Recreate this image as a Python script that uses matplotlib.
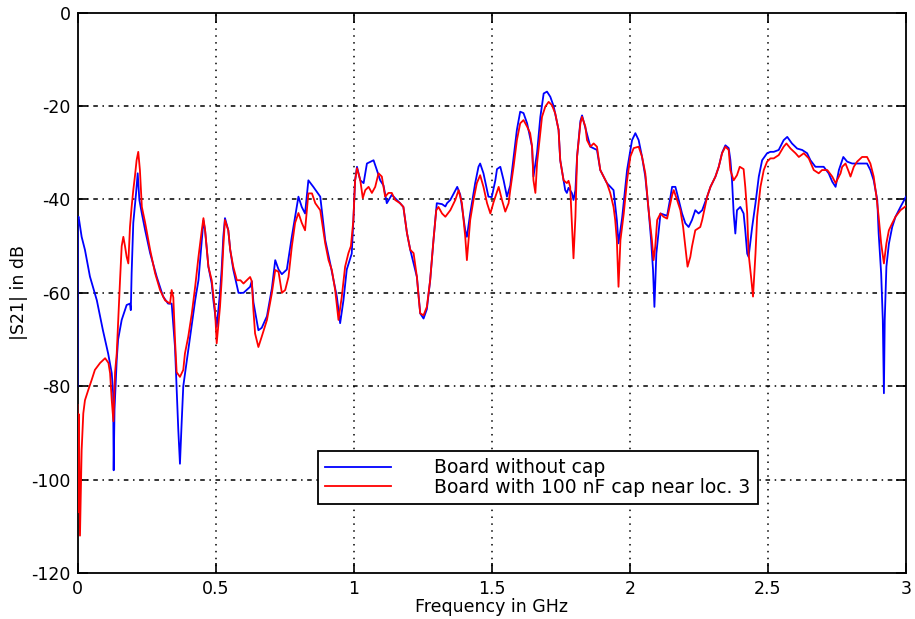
import matplotlib
matplotlib.use("Agg")
import matplotlib.pyplot as plt
import numpy as np

plt.rcParams['font.family'] = ['DejaVu Sans']

# Board without cap (blue): frequency in GHz, |S21| in dB
blue_f = [0.000, 0.001, 0.004, 0.015, 0.027, 0.045, 0.070, 0.092, 0.111, 0.124, 0.129, 0.131, 0.134,
          0.142, 0.147, 0.160, 0.178, 0.190, 0.193, 0.196, 0.202, 0.212, 0.218, 0.224, 0.233, 0.245,
          0.263, 0.287, 0.310, 0.328, 0.341, 0.353, 0.365, 0.371, 0.377, 0.383, 0.396, 0.408, 0.426,
          0.438, 0.450, 0.456, 0.462, 0.474, 0.486, 0.492, 0.504, 0.516, 0.522, 0.528, 0.534, 0.546,
          0.553, 0.564, 0.583, 0.601, 0.625, 0.631, 0.637, 0.655, 0.667, 0.686, 0.704, 0.716, 0.728,
          0.740, 0.758, 0.776, 0.800, 0.812, 0.824, 0.836, 0.854, 0.879, 0.897, 0.915, 0.939, 0.951,
          0.963, 0.975, 0.993, 0.999, 1.005, 1.012, 1.024, 1.036, 1.048, 1.072, 1.084, 1.096, 1.108,
          1.120, 1.138, 1.168, 1.180, 1.193, 1.205, 1.229, 1.241, 1.253, 1.265, 1.277, 1.289, 1.301,
          1.320, 1.332, 1.338, 1.350, 1.375, 1.386, 1.404, 1.410, 1.422, 1.440, 1.452, 1.458, 1.470,
          1.488, 1.500, 1.513, 1.519, 1.531, 1.543, 1.555, 1.567, 1.579, 1.591, 1.603, 1.615, 1.628,
          1.646, 1.651, 1.664, 1.676, 1.688, 1.700, 1.712, 1.724, 1.742, 1.748, 1.760, 1.766, 1.772,
          1.778, 1.790, 1.796, 1.803, 1.809, 1.821, 1.827, 1.845, 1.857, 1.881, 1.893, 1.917, 1.941,
          1.953, 1.959, 1.972, 1.990, 2.008, 2.020, 2.032, 2.044, 2.056, 2.068, 2.077, 2.084, 2.089,
          2.096, 2.111, 2.135, 2.147, 2.153, 2.165, 2.177, 2.189, 2.201, 2.213, 2.225, 2.237, 2.249,
          2.262, 2.280, 2.292, 2.310, 2.322, 2.334, 2.346, 2.358, 2.364, 2.370, 2.376, 2.382, 2.388,
          2.400, 2.412, 2.418, 2.425, 2.430, 2.443, 2.455, 2.467, 2.479, 2.497, 2.509, 2.521, 2.539,
          2.557, 2.570, 2.587, 2.606, 2.624, 2.642, 2.654, 2.672, 2.702, 2.720, 2.733, 2.745, 2.757,
          2.773, 2.787, 2.805, 2.835, 2.859, 2.871, 2.883, 2.896, 2.901, 2.910, 2.916, 2.920, 2.923,
          2.929, 2.938, 2.950, 2.962, 2.980, 3.000]
blue_db = [-80, -44, -43.7, -48, -50.8, -56.5, -61.6, -68, -73, -77.2, -81.5, -98, -85,
           -74.4, -70, -65.8, -62.6, -62.3, -63.7, -55.8, -45, -38.7, -34.4, -40.1, -43, -46.6,
           -51.5, -56.6, -60.8, -62.3, -62.3, -71.6, -89.4, -96.6, -88, -80, -74.4, -69.4, -61.6,
           -57.3, -48.7, -44.5, -46.6, -54.4, -58, -61.6, -67.3, -60, -55, -48, -44, -46.6,
           -50.8, -55, -60, -60, -58.7, -57.5, -62, -68, -67.5, -65, -59, -53, -55,
           -56, -55, -48, -39.4, -41.6, -43, -35.9, -37.3, -39.4, -48.7, -53.7, -60.8, -66.5,
           -61.6, -55, -51.6, -44.4, -36, -33, -35.9, -36.5, -32.3, -31.6, -33.7, -35.9, -37,
           -40.8, -39, -40.8, -41.6, -47.2, -50.8, -56.6, -64.4, -65.5, -63.5, -57.3, -48.7, -40.8,
           -41, -41.5, -40.8, -40.1, -37.3, -39, -46.6, -48, -43, -36.5, -33, -32.3, -34.4,
           -39.4, -39.5, -35.9, -33.5, -33, -35.9, -39.4, -37, -31, -25.1, -21.2, -21.5, -23.7,
           -28.7, -35.1, -30, -22.3, -17.3, -16.9, -18, -20, -25.1, -31.6, -35.9, -38, -38.6,
           -37.5, -38.6, -40.1, -38, -30.8, -23.2, -22, -26, -28.7, -29.4, -33.7, -36.5, -38,
           -44.4, -49.4, -44, -33.7, -27.3, -25.8, -27.3, -30.8, -35.1, -42.3, -48.7, -55.1, -63,
           -51.6, -43, -43.5, -39.5, -37.3, -37.3, -40.1, -43, -45.1, -45.9, -44.4, -42.3, -43,
           -42.3, -39.4, -37.3, -35.1, -33, -30, -28.4, -29, -31.5, -35.9, -43, -47.3, -42.3,
           -41.6, -43, -46.6, -51.6, -52.3, -45.9, -40.8, -35.1, -31.6, -30.1, -29.8, -29.8, -29.4,
           -27.3, -26.6, -28, -29.1, -29.4, -30.1, -31.6, -33, -33, -34.4, -36.2, -37.3, -33.7,
           -30.9, -31.9, -32.3, -32.3, -32.3, -33.7, -35.9, -40.1, -47.3, -55.8, -65.8, -81.5, -65.8,
           -54.4, -49.5, -45.9, -43.7, -41.6, -39.4]

# Board with 100 nF cap near loc. 3 (red)
red_f = [0.000, 0.002, 0.005, 0.009, 0.015, 0.021, 0.027, 0.039, 0.051, 0.063, 0.082, 0.100, 0.112,
         0.118, 0.124, 0.130, 0.136, 0.142, 0.148, 0.154, 0.160, 0.166, 0.172, 0.178, 0.184, 0.190,
         0.196, 0.202, 0.208, 0.214, 0.220, 0.226, 0.233, 0.245, 0.263, 0.281, 0.299, 0.317, 0.335,
         0.341, 0.347, 0.353, 0.359, 0.371, 0.383, 0.389, 0.401, 0.414, 0.426, 0.438, 0.450, 0.456,
         0.462, 0.474, 0.486, 0.498, 0.504, 0.516, 0.522, 0.528, 0.534, 0.546, 0.553, 0.564, 0.577,
         0.590, 0.601, 0.613, 0.625, 0.631, 0.637, 0.643, 0.655, 0.667, 0.686, 0.704, 0.716, 0.728,
         0.740, 0.752, 0.764, 0.776, 0.788, 0.800, 0.812, 0.824, 0.836, 0.849, 0.861, 0.879, 0.897,
         0.909, 0.921, 0.933, 0.945, 0.957, 0.969, 0.981, 0.990, 0.999, 1.005, 1.012, 1.024, 1.033,
         1.042, 1.054, 1.066, 1.078, 1.090, 1.102, 1.114, 1.126, 1.138, 1.150, 1.168, 1.180, 1.193,
         1.205, 1.217, 1.229, 1.235, 1.241, 1.253, 1.265, 1.277, 1.289, 1.299, 1.307, 1.320, 1.332,
         1.350, 1.368, 1.380, 1.392, 1.404, 1.410, 1.422, 1.434, 1.446, 1.458, 1.470, 1.483, 1.495,
         1.507, 1.525, 1.537, 1.549, 1.561, 1.567, 1.579, 1.591, 1.603, 1.615, 1.628, 1.639, 1.646,
         1.651, 1.658, 1.664, 1.673, 1.682, 1.694, 1.706, 1.718, 1.730, 1.742, 1.748, 1.760, 1.772,
         1.778, 1.784, 1.790, 1.796, 1.803, 1.809, 1.821, 1.827, 1.839, 1.845, 1.857, 1.869, 1.881,
         1.893, 1.905, 1.917, 1.929, 1.941, 1.947, 1.953, 1.959, 1.966, 1.978, 1.990, 2.002, 2.014,
         2.032, 2.044, 2.056, 2.068, 2.080, 2.086, 2.092, 2.099, 2.111, 2.122, 2.135, 2.147, 2.153,
         2.159, 2.171, 2.183, 2.193, 2.201, 2.209, 2.219, 2.225, 2.237, 2.255, 2.262, 2.280, 2.292,
         2.310, 2.322, 2.334, 2.346, 2.358, 2.364, 2.376, 2.388, 2.398, 2.412, 2.418, 2.425, 2.430,
         2.439, 2.446, 2.455, 2.461, 2.473, 2.485, 2.497, 2.509, 2.521, 2.539, 2.557, 2.567, 2.582,
         2.600, 2.612, 2.630, 2.648, 2.666, 2.684, 2.696, 2.715, 2.733, 2.745, 2.763, 2.769, 2.781,
         2.793, 2.799, 2.811, 2.823, 2.841, 2.859, 2.871, 2.883, 2.893, 2.901, 2.910, 2.920, 2.929,
         2.938, 2.950, 2.962, 2.980, 3.000]
red_db = [-84, -107, -86, -112, -93.7, -85.8, -83, -80.8, -78.7, -76.5, -75, -74, -75,
          -77.2, -83, -87.5, -77, -73, -65, -57.3, -50, -48, -50, -52.3, -53.7, -45.9,
          -41.6, -38, -35, -31.6, -29.8, -33.7, -41.6, -45, -50.8, -55.8, -59.4, -61.6, -62.3,
          -59.4, -61, -70, -77, -78, -76.5, -73, -69.4, -64.4, -58.7, -52.3, -46.6, -44,
          -46.6, -54.4, -57.3, -63.7, -70.8, -63, -57.3, -50.1, -44.4, -46.6, -50.8, -54.4, -57.3,
          -57.3, -58, -57.3, -56.6, -57.5, -63.7, -68.7, -71.6, -69.4, -65.8, -60, -55.1, -55.5,
          -60, -59.4, -56.6, -50.1, -45, -42.9, -45, -46.6, -38.7, -38.7, -40.8, -42.3, -49.4,
          -53, -55.1, -59.4, -65.8, -60.8, -54.4, -51.5, -50, -44.4, -36, -33.3, -35.9, -39.7,
          -38, -37.3, -38.6, -37.3, -34.4, -35.1, -39.4, -38.6, -38.6, -40.1, -40.8, -41.6, -47.2,
          -50.8, -51.5, -56.6, -60.8, -64.4, -64.8, -63, -57.3, -48.7, -42.3, -41.6, -43, -43.7,
          -42.3, -40.1, -38, -40.8, -48, -53, -44.4, -40.1, -36.5, -34.8, -37.3, -40.8, -43,
          -40.5, -37.3, -40.1, -42.6, -40.8, -38, -33, -27.3, -23.7, -23, -24.4, -25.8, -28.7,
          -35.9, -38.6, -32.3, -27.3, -22.3, -20.1, -19.1, -19.8, -21.6, -25.1, -31.6, -35.9, -36.5,
          -36, -37.3, -45, -52.6, -43.7, -30.8, -23.7, -22.3, -24.4, -27.3, -28.7, -28, -28.7,
          -33.7, -35.1, -36.5, -38.6, -41.6, -44.4, -48.7, -58.7, -48.7, -43, -35.9, -30.8, -29,
          -28.7, -30.8, -34.4, -42.3, -48.7, -53, -50.1, -44.4, -43, -43.7, -44.1, -40.8, -39.1,
          -38, -40.1, -42.3, -45.9, -50.1, -54.4, -52.3, -50.1, -46.6, -45.9, -44.4, -39.4, -37.3,
          -35.1, -33, -30.1, -28.7, -29.4, -33.7, -35.9, -34.8, -33, -33.5, -37.3, -43, -51.6,
          -56.6, -60.8, -51.6, -43.7, -37.3, -33.7, -31.9, -31.2, -31.2, -30.5, -28.7, -28, -29.1,
          -30.1, -30.9, -30.1, -31.2, -33.7, -34.4, -33.7, -33.7, -35.1, -36.5, -34.4, -33, -32.3,
          -34.1, -35.1, -33, -31.9, -30.9, -30.9, -32.3, -35.1, -39.4, -43.7, -49.4, -53.7, -49.4,
          -46.6, -45.1, -43.7, -42.3, -41.4]

x_ticks = [0, 0.5, 1, 1.5, 2, 2.5, 3]
x_ticklabels = ['0', '0.5', '1', '1.5', '2', '2.5', '3']
y_ticks = [-120, -100, -80, -60, -40, -20, 0]
y_ticklabels = ['-120', '-100', '-80', '-60', '-40', '-20', '0']

fig = plt.figure(figsize=(9.15, 6.19), dpi=100)
ax = fig.add_axes([77.5 / 915, 46 / 619, 828.5 / 915, 560.3 / 619])

ax.plot(blue_f, blue_db, color='#0000ff', lw=1.3, label='Board without cap', zorder=3)
ax.plot(red_f, red_db, color='#ff0000', lw=1.3, label='Board with 100 nF cap near loc. 3', zorder=4)

ax.set_xlim(0, 3)
ax.set_ylim(-120, 0)
ax.set_xticks(x_ticks)
ax.set_xticklabels(x_ticklabels)
ax.set_yticks(y_ticks)
ax.set_yticklabels(y_ticklabels)

for xv in x_ticks[1:-1]:
    ax.axvline(xv, color='black', lw=1.1, ls=(0, (1, 3.5)), zorder=1)
for yv in y_ticks[1:-1]:
    ax.axhline(yv, color='black', lw=1.1, ls=(0, (3, 3, 1, 3)), zorder=1)

ax.tick_params(direction='in', top=True, right=True, length=7, width=1.2, labelsize=12.5, pad=5)
for s in ax.spines.values():
    s.set_linewidth(1.3)

ax.set_xlabel('Frequency in GHz', fontsize=12.5, labelpad=0)
ax.set_ylabel('|S21| in dB', fontsize=12.5, labelpad=2)

leg = ax.legend(loc='lower left', bbox_to_anchor=(0.29, 0.123), fontsize=13.5,
                frameon=True, fancybox=False, edgecolor='black', framealpha=1,
                handlelength=3.5, handletextpad=2.3, labelspacing=0.02,
                borderpad=0.4, borderaxespad=0)
leg.get_frame().set_linewidth(1.3)
leg.set_zorder(10)

fig.savefig('out.png', dpi=100)
